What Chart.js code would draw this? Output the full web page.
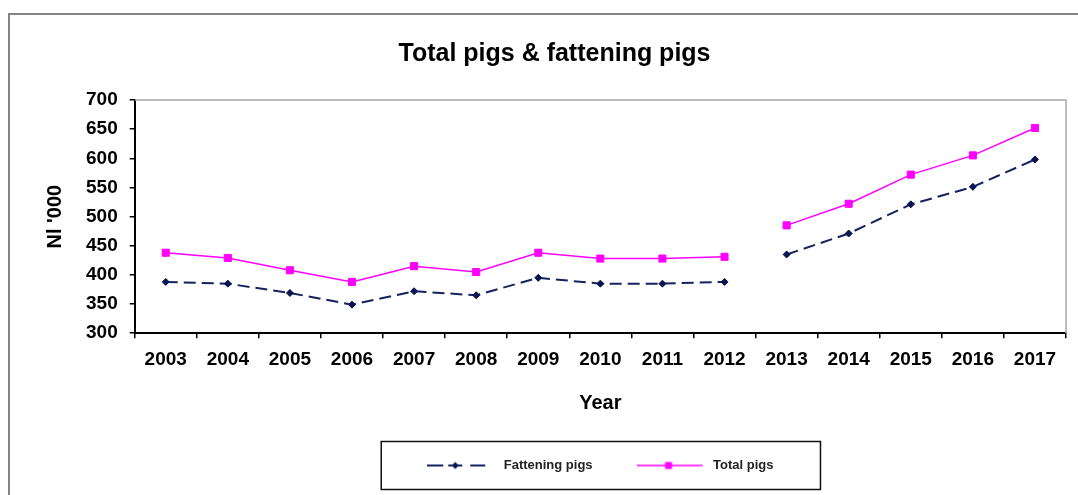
<!DOCTYPE html>
<html>
<head>
<meta charset="utf-8">
<script src="https://cdn.jsdelivr.net/npm/chart.js@4.4.1/dist/chart.umd.min.js"></script>
<style>
  html, body { margin: 0; padding: 0; background: #fff; overflow: hidden; }
  #frame { position: absolute; left: 8px; top: 13px; width: 1200px; height: 600px;
           border: 2px solid #858585; box-sizing: border-box; }
  #wrap { position: absolute; left: 0; top: 0; width: 1078px; height: 495px; }
</style>
</head>
<body>
<div id="frame"></div>
<div id="wrap"><canvas id="chart"></canvas></div>
<script>
// Pig numbers, thousands of head
const years = ['2003', '2004', '2005', '2006', '2007', '2008', '2009', '2010',
               '2011', '2012', '2013', '2014', '2015', '2016', '2017'];
const fatteningPigs = [388, 385, 369, 349, 372, 365, 395, 385, 385, 388, 435, 471, 521, 551, 598];
const totalPigs     = [438, 429, 408, 388, 415, 405, 438, 428, 428, 431, 485, 522, 572, 605, 652];
const yTickValues   = [300, 350, 400, 450, 500, 550, 600, 650, 700];
// the series are not joined across this break in the record
const breakAfterYear = '2012';

const FONT = 'Liberation Sans, Arial, sans-serif';
const NAVY = '#13235f';
const NAVY_MARK = '#0a1450';
const MAGENTA = '#ff00ff';

const breakIndex = years.indexOf(breakAfterYear);
const hideBreak = ctx => ctx.p0DataIndex === breakIndex ? 'rgba(0,0,0,0)' : undefined;

// legend swatches: line sample with the marker in the middle
function swatch(kind) {
  const c = document.createElement('canvas');
  c.width = 70; c.height = 14;
  const g = c.getContext('2d');
  if (kind === 'dash') {
    g.strokeStyle = NAVY; g.lineWidth = 2;
    g.beginPath();
    g.moveTo(0, 7); g.lineTo(16, 7);
    g.moveTo(21, 7); g.lineTo(35, 7);
    g.moveTo(43, 7); g.lineTo(58, 7);
    g.stroke();
    g.fillStyle = NAVY_MARK;
    g.beginPath();
    g.moveTo(28, 3.5); g.lineTo(31.5, 7); g.lineTo(28, 10.5); g.lineTo(24.5, 7);
    g.closePath(); g.fill();
  } else {
    g.strokeStyle = MAGENTA; g.lineWidth = 1.5;
    g.beginPath(); g.moveTo(0, 7); g.lineTo(66, 7); g.stroke();
    g.fillStyle = MAGENTA;
    g.fillRect(28.5, 3.5, 7, 7);
  }
  return c;
}
const swatches = [swatch('dash'), swatch('solid')];

// top and right edges of the plot frame
const plotFrame = {
  id: 'plotFrame',
  beforeDatasetsDraw(chart) {
    const { ctx, chartArea: a } = chart;
    ctx.save();
    ctx.strokeStyle = '#a8a8a8';
    ctx.lineWidth = 1.5;
    ctx.beginPath();
    ctx.moveTo(a.left, a.top);
    ctx.lineTo(a.right, a.top);
    ctx.lineTo(a.right, a.bottom);
    ctx.stroke();
    ctx.restore();
  }
};

// box around the legend entries
const legendFrame = {
  id: 'legendFrame',
  afterDraw(chart) {
    const boxes = chart.legend && chart.legend.legendHitBoxes;
    if (!boxes || !boxes.length) return;
    const first = boxes[0], last = boxes[boxes.length - 1];
    const cy = first.top + first.height / 2;
    const left = first.left - 46;
    const right = last.left + last.width + 47;
    const ctx = chart.ctx;
    ctx.save();
    ctx.strokeStyle = '#111';
    ctx.lineWidth = 1.5;
    ctx.strokeRect(left, cy - 24, right - left, 48);
    ctx.restore();
  }
};

new Chart(document.getElementById('chart'), {
  type: 'line',
  data: {
    labels: years,
    datasets: [
      {
        label: 'Fattening pigs',
        data: fatteningPigs,
        borderColor: NAVY,
        borderWidth: 2,
        borderDash: [12, 6],
        pointStyle: 'rectRot',
        pointRadius: 3.5,
        pointBackgroundColor: NAVY_MARK,
        pointBorderColor: NAVY_MARK,
        pointBorderWidth: 1,
        tension: 0,
        segment: { borderColor: hideBreak }
      },
      {
        label: 'Total pigs',
        data: totalPigs,
        borderColor: MAGENTA,
        borderWidth: 1.5,
        pointStyle: 'rect',
        pointRadius: 5,
        pointBackgroundColor: MAGENTA,
        pointBorderColor: MAGENTA,
        pointBorderWidth: 1,
        tension: 0,
        segment: { borderColor: hideBreak }
      }
    ]
  },
  options: {
    responsive: true,
    maintainAspectRatio: false,
    animation: false,
    events: [],
    layout: { padding: { left: 43, right: 12, top: 0, bottom: 13 } },
    plugins: {
      title: {
        display: true,
        text: 'Total pigs & fattening pigs',
        color: '#000',
        font: { family: FONT, size: 25, weight: 'bold' },
        padding: { top: 39, bottom: 31 }
      },
      legend: {
        position: 'bottom',
        fullSize: false,
        labels: {
          usePointStyle: true,
          pointStyleWidth: 70,
          padding: 44,
          color: '#222',
          font: { family: FONT, size: 13, weight: 'bold' },
          generateLabels(chart) {
            const items = Chart.defaults.plugins.legend.labels.generateLabels(chart);
            items.forEach((it, i) => { it.pointStyle = swatches[i]; });
            return items;
          }
        }
      },
      tooltip: { enabled: false }
    },
    scales: {
      x: {
        offset: true,
        grid: { offset: true, drawOnChartArea: false, tickLength: 5, color: '#000', lineWidth: 1.5 },
        border: { color: '#000', width: 2 },
        ticks: {
          color: '#000', padding: 10, maxRotation: 0, autoSkip: false,
          font: { family: FONT, size: 19, weight: 'bold' }
        },
        title: {
          display: true, text: 'Year', color: '#000',
          font: { family: FONT, size: 20, weight: 'bold' },
          padding: { top: 10, bottom: 0 }
        }
      },
      y: {
        min: yTickValues[0],
        max: yTickValues[yTickValues.length - 1],
        grid: { drawOnChartArea: false, tickLength: 5, color: '#000', lineWidth: 1.5 },
        border: { color: '#000', width: 2 },
        ticks: {
          stepSize: yTickValues[1] - yTickValues[0],
          color: '#000', padding: 12,
          font: { family: FONT, size: 19, weight: 'bold' }
        },
        title: {
          display: true, text: "Nl '000", color: '#000',
          font: { family: FONT, size: 20, weight: 'bold' },
          padding: { top: 0, bottom: 7 }
        }
      }
    }
  },
  plugins: [plotFrame, legendFrame]
});
</script>
</body>
</html>
